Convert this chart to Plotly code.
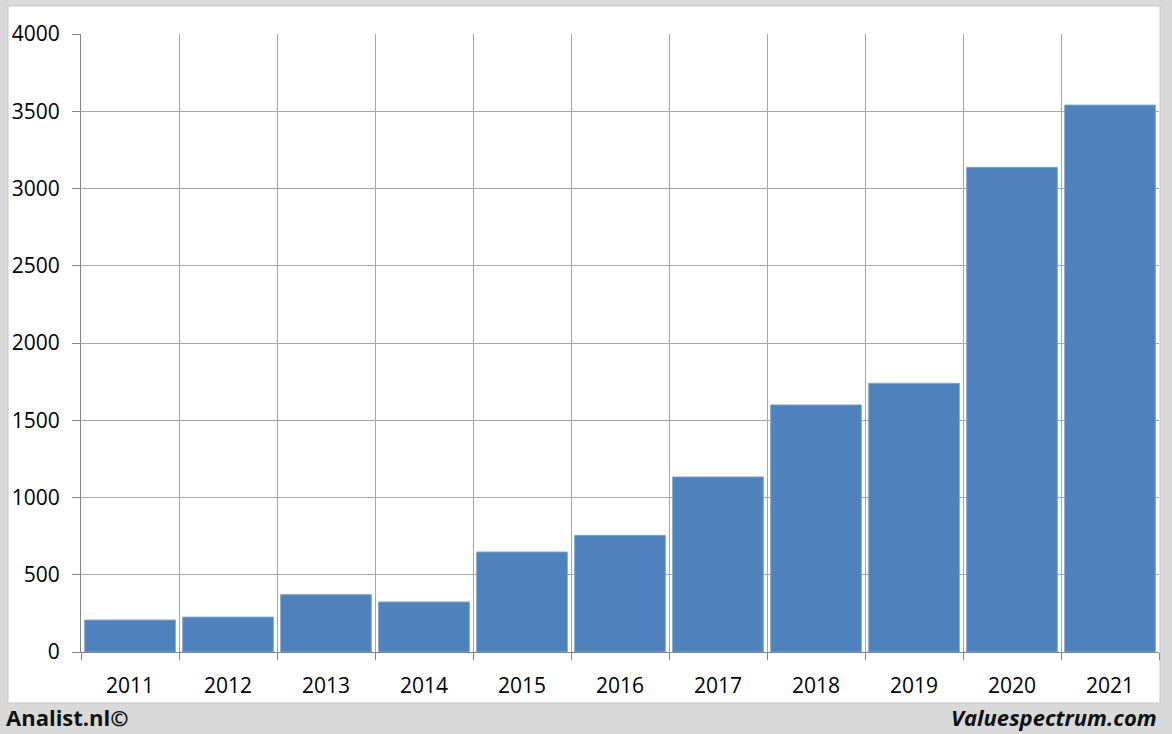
import plotly.graph_objects as go

years = ["2011", "2012", "2013", "2014", "2015", "2016", "2017", "2018", "2019", "2020", "2021"]
values = [207, 226, 371, 324, 647, 755, 1133, 1599, 1739, 3137, 3540]
y_ticks = [0, 500, 1000, 1500, 2000, 2500, 3000, 3500, 4000]

fig = go.Figure(go.Bar(
    x=years, y=values,
    marker=dict(color="#4f81bd", line=dict(color="#7fa3d1", width=1)),
))

W, H = 1172, 734
ml, mr, mt, mb = 81, 13, 34, 82
pw, ph = W - ml - mr, H - mt - mb

def px(x):
    return (x - ml) / pw

def py(y):
    return (H - mb - y) / ph

fig.add_shape(type="rect", xref="paper", yref="paper",
              x0=px(8), x1=px(1160), y0=py(703), y1=py(6),
              fillcolor="white", line=dict(color="#c8c8c8", width=1), layer="below")

fig.update_layout(
    width=W, height=H,
    margin=dict(l=ml, r=mr, t=mt, b=mb),
    paper_bgcolor="#d9d9d9",
    plot_bgcolor="rgba(0,0,0,0)",
    bargap=0.075,
    showlegend=False,
    font=dict(family="Open Sans", size=21, color="#000000"),
    xaxis=dict(
        type="category", tickson="boundaries", automargin=False,
        showgrid=True, gridcolor="#a6a6a6", gridwidth=1,
        showline=True, linecolor="#868686", linewidth=1,
        ticks="outside", ticklen=7, tickcolor="#868686",
        ticklabelstandoff=15,
        tickfont=dict(family="Open Sans", size=21, color="#000000"),
    ),
    yaxis=dict(
        range=[0, 4000], tickvals=y_ticks, automargin=False,
        showgrid=True, gridcolor="#a6a6a6", gridwidth=1,
        showline=True, linecolor="#868686", linewidth=1,
        ticks="outside", ticklen=8, tickcolor="#868686",
        ticklabelstandoff=8,
        zeroline=False,
        tickfont=dict(family="Open Sans", size=21, color="#000000"),
    ),
)

fig.add_annotation(text="<b>Analist.nl©</b>", xref="paper", yref="paper",
                   x=px(4), y=py(717), xanchor="left", yanchor="middle",
                   showarrow=False, font=dict(family="Open Sans", size=22, color="#111111"))
fig.add_annotation(text="<b><i>Valuespectrum.com</i></b>", xref="paper", yref="paper",
                   x=px(1159), y=py(717), xanchor="right", yanchor="middle",
                   showarrow=False, font=dict(family="Open Sans", size=22, color="#111111"))

fig.write_html(
    "out.html",
    config={"displayModeBar": False},
    post_script="document.body.style.margin='0';document.body.style.background='#d9d9d9';",
)
